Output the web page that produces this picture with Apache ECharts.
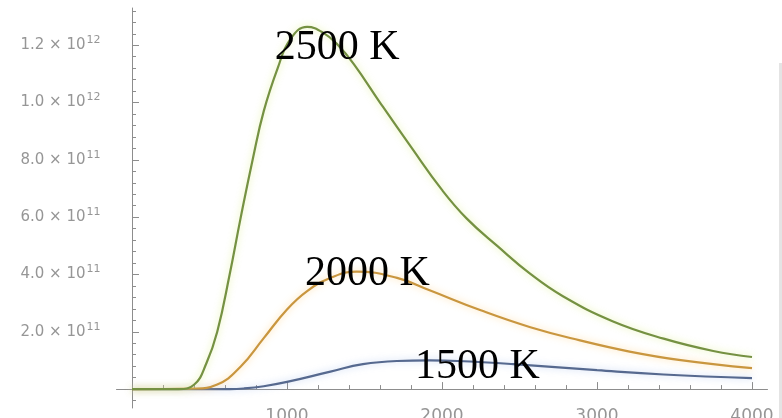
<!DOCTYPE html>
<html>
<head>
<meta charset="utf-8">
<script src="https://cdn.jsdelivr.net/npm/echarts@6/dist/echarts.min.js"></script>
<style>
  html, body { margin: 0; padding: 0; background: #ffffff; }
  #chart { width: 782px; height: 418px; }
</style>
</head>
<body>
<div id="chart"></div>
<script>
// Blackbody spectral radiance vs. wavelength (nm), values in units of 1e11
const wl2500  = [0, 300, 400, 480, 550, 630, 700, 780, 850, 940, 1020, 1130, 1230, 1330, 1430, 1600, 1800, 2000, 2160, 2360, 2570, 2780, 3100, 3430, 3750, 4000];
const rad2500 = [0, 0, 0.15, 0.9, 2.0, 4.0, 5.95, 8.05, 9.7, 11.2, 12.2, 12.64, 12.45, 12.0, 11.35, 10.0, 8.45, 6.95, 5.95, 4.98, 4.02, 3.24, 2.37, 1.76, 1.33, 1.12];

const wl2000  = [0, 400, 550, 700, 850, 1000, 1130, 1280, 1450, 1710, 1920, 2250, 2570, 2890, 3210, 3540, 4000];
const rad2000 = [0, 0.02, 0.16, 0.78, 1.78, 2.78, 3.42, 3.88, 4.1, 3.88, 3.45, 2.75, 2.16, 1.7, 1.31, 1.01, 0.73];

const wl1500  = [0, 630, 720, 850, 1000, 1280, 1490, 1710, 1920, 2100, 2460, 3000, 3430, 4000];
const rad1500 = [0, 0, 0.02, 0.1, 0.25, 0.61, 0.87, 0.98, 1.0, 0.98, 0.87, 0.66, 0.51, 0.38];

const SCALE = 1e11;

// Axis ticks and labels
const xMajorTicks = [1000, 2000, 3000, 4000];
const xMinorTicks = [200, 400, 600, 800, 1200, 1400, 1600, 1800, 2200, 2400, 2600, 2800, 3200, 3400, 3600, 3800];
const yMajorTicks = [0, 2e11, 4e11, 6e11, 8e11, 1e12, 1.2e12];
const yLabelTicks = [2e11, 4e11, 6e11, 8e11, 1e12, 1.2e12];
const yMinorTicks = [-4e10, 4e10, 8e10, 1.2e11, 1.6e11, 2.4e11, 2.8e11, 3.2e11, 3.6e11, 4.4e11, 4.8e11, 5.2e11, 5.6e11,
  6.4e11, 6.8e11, 7.2e11, 7.6e11, 8.4e11, 8.8e11, 9.2e11, 9.6e11, 1.04e12, 1.08e12, 1.12e12, 1.16e12, 1.24e12, 1.28e12, 1.32e12];

// Curve label anchors [wavelength, radiance]
const tempLabels = {
  '2500 K': [1323, 1.19e12],
  '2000 K': [1519, 4.02e11],
  '1500 K': [2229, 0.77e11]
};

const X_MIN = -100, X_MAX = 4100;
const Y_MIN = -6.6e10, Y_MAX = 1.33e12;

const axisColor = '#8d8d8d';
const labelColor = '#969696';

function sciLabel(v) {
  const exp = Math.floor(Math.log10(v) + 1e-9);
  const mant = (v / Math.pow(10, exp)).toFixed(1);
  return '{b|' + mant + ' × 10}{s|' + exp + '}';
}

function pairs(xs, ys) {
  return xs.map((x, i) => [x, ys[i] * SCALE]);
}

function curveLabel(name) {
  return {
    symbol: 'circle',
    symbolSize: 1,
    itemStyle: { color: 'rgba(0,0,0,0)' },
    label: {
      show: true,
      position: 'inside',
      formatter: name,
      color: '#000000',
      fontFamily: 'Liberation Serif',
      fontSize: 42
    },
    data: [{ coord: tempLabels[name] }]
  };
}

function curve(name, xs, ys, color, glow) {
  return {
    name: name, type: 'line', xAxisIndex: 0, yAxisIndex: 0,
    data: pairs(xs, ys),
    smooth: 0.45,
    showSymbol: false,
    lineStyle: { color: color, width: 2.2, shadowColor: glow, shadowBlur: 7 },
    markPoint: curveLabel(name),
    z: 3
  };
}

const chart = echarts.init(document.getElementById('chart'), null, { renderer: 'canvas' });

const option = {
  backgroundColor: '#ffffff',
  animation: false,
  grid: {
    left: 116.5, right: 14.5, top: 8, bottom: 10,
    containLabel: false,
    outerBoundsMode: 'none'
  },
  xAxis: [
    {
      type: 'value', min: X_MIN, max: X_MAX,
      axisLine: { show: true, onZero: true, lineStyle: { color: axisColor, width: 1 } },
      axisTick: { show: true, inside: true, length: 4, customValues: xMinorTicks, lineStyle: { color: axisColor } },
      axisLabel: {
        show: true, customValues: xMajorTicks, margin: 0,
        formatter: v => String(v),
        color: labelColor, fontFamily: 'DejaVu Sans', fontSize: 17, hideOverlap: false
      },
      splitLine: { show: false }
    },
    {
      type: 'value', min: X_MIN, max: X_MAX, position: 'bottom',
      axisLine: { show: false, onZero: true },
      axisTick: { show: true, inside: true, length: 7, customValues: xMajorTicks, lineStyle: { color: axisColor } },
      axisLabel: { show: false },
      splitLine: { show: false }
    }
  ],
  yAxis: [
    {
      type: 'value', min: Y_MIN, max: Y_MAX, position: 'left',
      axisLine: { show: true, onZero: true, lineStyle: { color: axisColor, width: 1 } },
      axisTick: { show: true, inside: true, length: 4, customValues: yMinorTicks, lineStyle: { color: axisColor } },
      axisLabel: {
        show: true, customValues: yLabelTicks, margin: 16,
        formatter: sciLabel, hideOverlap: false,
        rich: {
          b: { color: labelColor, fontFamily: 'DejaVu Sans', fontSize: 15 },
          s: { color: labelColor, fontFamily: 'DejaVu Sans', fontSize: 11, padding: [0, 0, 10, 1] }
        }
      },
      splitLine: { show: false }
    },
    {
      type: 'value', min: Y_MIN, max: Y_MAX, position: 'left',
      axisLine: { show: false, onZero: true },
      axisTick: { show: true, inside: true, length: 7, customValues: yMajorTicks, lineStyle: { color: axisColor } },
      axisLabel: { show: false },
      splitLine: { show: false }
    }
  ],
  series: [
    curve('1500 K', wl1500, rad1500, '#56698f', 'rgba(150,180,235,0.6)'),
    curve('2000 K', wl2000, rad2000, '#c9963f', 'rgba(255,205,120,0.7)'),
    curve('2500 K', wl2500, rad2500, '#759142', 'rgba(215,235,120,0.7)')
  ],
  graphic: [
    {
      type: 'rect', right: 0, top: 63,
      shape: { width: 3, height: 355 },
      style: { fill: '#e4e4e4' },
      silent: true
    }
  ]
};

chart.setOption(option);
</script>
</body>
</html>
